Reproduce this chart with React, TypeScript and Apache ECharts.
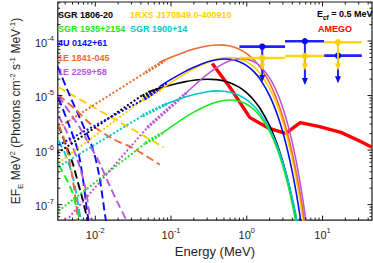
import React, { useEffect, useRef } from "react";
import * as echarts from "echarts";

type Pt = [number, number];

const FONT = "'Liberation Sans', Arial, Helvetica, sans-serif";
const X_MIN = 3.2e-3;
const X_MAX = 45;
const Y_MIN = 5.2e-8;
const Y_MAX = 5.2e-4;

const C_BLACK = "#000000";
const C_GOLD = "#FFD000";
const C_GREEN = "#1EE61E";
const C_CYAN = "#00C8C8";
const C_BLUE = "#0A0AF5";
const C_ORANGE = "#EE6A2F";
const C_PURPLE = "#BB55DD";
const C_RED = "#FF0000";

// ---- SGR 1806-20 (black)
const sgr1806Dashed: Pt[] = [[3.26e-3, 2.82e-6], [4.12e-3, 1.23e-6], [5.06e-3, 5.6e-7], [5.86e-3, 2.65e-7], [6.8e-3, 1.26e-7], [7.87e-3, 5.26e-8], [8.34e-3, 3.47e-8]];
const sgr1806Dotted: Pt[] = [[3.19e-3, 8.83e-7], [0.0421, 1.02e-5]];
const sgr1806Data: Pt[] = [[0.0421, 9.8e-6], [0.0757, 1.42e-5]];
const sgr1806Model: Pt[] = [[0.05, 1.172e-5], [0.1, 1.563e-5], [0.15, 1.784e-5], [0.2, 1.91e-5], [0.3, 1.996e-5], [0.4, 1.957e-5], [0.5, 1.853e-5], [0.6, 1.716e-5], [0.8, 1.41e-5], [1, 1.12e-5], [1.25, 8.14e-6], [1.5, 5.79e-6], [2, 2.81e-6], [2.5, 1.317e-6], [3, 6.03e-7], [3.5, 2.72e-7], [4, 1.215e-7], [4.5, 5.37e-8], [5, 2.36e-8]];

// ---- 1RXS J170849.0-400910 (gold)
const rxsDashed: Pt[] = [[3.26e-3, 1.42e-5], [0.0803, 1.13e-6]];
const rxsDotted: Pt[] = [[3.26e-3, 5.83e-7], [0.0421, 8.3e-6]];
const rxsData: Pt[] = [[0.0421, 8.3e-6], [0.0757, 1.31e-5]];
const rxsModel: Pt[] = [[0.0714, 1.255e-5], [0.1, 1.733e-5], [0.15, 2.48e-5], [0.2, 3.11e-5], [0.3, 4.056e-5], [0.4, 4.63e-5], [0.5, 4.92e-5], [0.6, 4.99e-5], [0.8, 4.71e-5], [1, 4.14e-5], [1.25, 3.31e-5], [1.5, 2.525e-5], [2, 1.35e-5], [2.5, 6.71e-6], [3, 3.19e-6], [3.5, 1.469e-6], [4, 6.61e-7], [4.5, 2.92e-7], [5, 1.274e-7], [5.5, 5.49e-8], [6, 2.34e-8]];

// ---- SGR 1935+2154 (green)
const sgr1935Dashed: Pt[] = [[3.26e-3, 5.37e-7], [4.0e-3, 3.27e-7], [4.92e-3, 1.75e-7], [5.69e-3, 8.65e-8], [6.22e-3, 5.26e-8], [6.6e-3, 3.47e-8]];
const sgr1935Dotted: Pt[] = [[3.26e-3, 7.64e-8], [0.0459, 1.34e-6]];
const sgr1935Data: Pt[] = [[0.0459, 1.34e-6], [0.0757, 2.02e-6]];
const sgr1935Model: Pt[] = [[0.0757, 2.02e-6], [0.1, 2.674e-6], [0.15, 3.907e-6], [0.2, 4.97e-6], [0.3, 6.59e-6], [0.4, 7.6e-6], [0.5, 8.13e-6], [0.6, 8.29e-6], [0.8, 7.86e-6], [1, 6.92e-6], [1.25, 5.52e-6], [1.5, 4.19e-6], [2, 2.212e-6], [2.5, 1.082e-6], [3, 5.05e-7], [3.5, 2.277e-7], [4, 1.002e-7], [4.5, 4.33e-8], [5, 1.844e-8]];

// ---- SGR 1900+14 (cyan)
const sgr1900Dashed: Pt[] = [[3.26e-3, 1.51e-6], [4.0e-3, 8.47e-7], [4.92e-3, 3.7e-7], [5.69e-3, 1.42e-7], [6.41e-3, 5.26e-8], [6.8e-3, 3.47e-8]];
const sgr1900Dotted: Pt[] = [[3.26e-3, 4.94e-7], [0.0421, 4.27e-6]];
const sgr1900Data: Pt[] = [[0.0421, 4.27e-6], [0.0877, 7.03e-6]];
const sgr1900Model: Pt[] = [[0.0757, 6.47e-6], [0.1, 7.57e-6], [0.15, 9.28e-6], [0.2, 1.046e-5], [0.3, 1.177e-5], [0.4, 1.217e-5], [0.5, 1.202e-5], [0.6, 1.153e-5], [0.8, 1.004e-5], [1, 8.35e-6], [1.25, 6.37e-6], [1.5, 4.72e-6], [2, 2.456e-6], [2.5, 1.219e-6], [3, 5.88e-7], [3.5, 2.78e-7], [4, 1.294e-7], [4.5, 5.96e-8], [5, 2.72e-8]];

// ---- 4U 0142+61 (blue)
const u0142DashedA: Pt[] = [[3.26e-3, 9.02e-6], [4.37e-3, 3.2e-6], [5.86e-3, 1.0e-6], [6.8e-3, 3.27e-7], [7.64e-3, 9.4e-8], [8.1e-3, 5.26e-8], [8.34e-3, 3.47e-8]];
const u0142DashedB: Pt[] = [[3.19e-3, 3.4e-5], [4.63e-3, 9.8e-6], [6.22e-3, 3.94e-6], [9.12e-3, 1.13e-6], [0.0112, 3.55e-7], [0.01376, 5.26e-8], [0.01459, 3.47e-8]];
const u0142Dotted: Pt[] = [[3.26e-3, 1.23e-6], [0.0446, 8.65e-6]];
const u0142Data: Pt[] = [[0.0446, 8.65e-6], [0.0877, 1.68e-5]];
const u0142Model: Pt[] = [[0.0714, 1.482e-5], [0.1, 1.977e-5], [0.15, 2.716e-5], [0.2, 3.3e-5], [0.3, 4.11e-5], [0.4, 4.53e-5], [0.5, 4.67e-5], [0.6, 4.62e-5], [0.8, 4.18e-5], [1, 3.54e-5], [1.25, 2.715e-5], [1.5, 1.997e-5], [2, 9.98e-6], [2.5, 4.67e-6], [3, 2.095e-6], [3.5, 9.13e-7], [4, 3.9e-7], [4.5, 1.636e-7], [5, 6.79e-8], [5.5, 2.78e-8]];

// ---- 1E 1841-045 (orange)
const e1841DashedA: Pt[] = [[3.26e-3, 1.02e-5], [5.37e-3, 5.71e-6], [8.85e-3, 2.94e-6], [0.01741, 1.58e-6], [0.03135, 1.09e-6], [0.0714, 5.37e-7]];
const e1841DashedB: Pt[] = [[3.26e-3, 2.94e-6], [3.88e-3, 1.58e-6], [4.77e-3, 4.55e-7], [5.53e-3, 1.16e-7], [5.86e-3, 5.26e-8], [6.04e-3, 3.47e-8]];
const e1841Dotted: Pt[] = [[3.26e-3, 2.6e-6], [0.0459, 2.65e-5]];
const e1841Data: Pt[] = [[0.0459, 2.65e-5], [0.0827, 4.36e-5]];
const e1841Model: Pt[] = [[0.0693, 4.02e-5], [0.1, 5.02e-5], [0.15, 6.25e-5], [0.2, 7.12e-5], [0.3, 8.12e-5], [0.4, 8.47e-5], [0.5, 8.41e-5], [0.6, 8.09e-5], [0.8, 7.08e-5], [1, 5.9e-5], [1.25, 4.5e-5], [1.5, 3.33e-5], [2, 1.716e-5], [2.5, 8.43e-6], [3, 4.02e-6], [3.5, 1.874e-6], [4, 8.6e-7], [4.5, 3.9e-7], [5, 1.754e-7], [5.5, 7.82e-8], [6, 3.47e-8], [6.5, 1.53e-8]];

// ---- 1E 2259+58 (purple)
const e2259DashedA: Pt[] = [[3.26e-3, 4.27e-6], [4.12e-3, 2.29e-6], [5.06e-3, 1.13e-6], [6.22e-3, 4.94e-7], [7.42e-3, 1.98e-7], [8.59e-3, 5.26e-8], [8.85e-3, 3.47e-8]];
const e2259DashedB: Pt[] = [[3.26e-3, 9.8e-6], [4.63e-3, 4.84e-6], [6.22e-3, 2.6e-6], [8.34e-3, 1.28e-6], [0.0112, 6.08e-7], [0.01502, 2.44e-7], [0.02017, 1.02e-7], [0.02553, 5.26e-8], [0.02787, 3.47e-8]];
const e2259Dotted: Pt[] = [[3.26e-3, 3.47e-8], [0.0487, 2.6e-6]];
const e2259Data: Pt[] = [[0.0487, 2.6e-6], [0.158, 1.11e-5]];
const e2259Model: Pt[] = [[0.149, 1.022e-5], [0.2, 1.512e-5], [0.3, 2.447e-5], [0.4, 3.256e-5], [0.5, 3.89e-5], [0.6, 4.34e-5], [0.8, 4.745e-5], [1, 4.66e-5], [1.25, 4.15e-5], [1.5, 3.456e-5], [2, 2.105e-5], [2.5, 1.152e-5], [3, 5.88e-6], [3.5, 2.87e-6], [4, 1.351e-6], [4.5, 6.2e-7], [5, 2.784e-7], [5.5, 1.231e-7], [6, 5.36e-8], [6.5, 2.31e-8]];

// ---- AMEGO sensitivity
const amego: Pt[] = [[0.35, 3.86e-5], [0.611, 1.365e-5], [0.87, 6.47e-6], [1.1, 3.94e-6], [1.981, 2.49e-6], [3.266, 2.02e-6], [5.08, 3.2e-6], [9.14, 2.7e-6], [17.46, 2.11e-6], [31.45, 1.45e-6], [44.8, 1.13e-6]];

// ---- Upper limits
const ulCenters = [1.6, 5.85, 16];
const ulLow = [0.8, 3.2, 10.5];
const ulHigh = [3.2, 10.5, 33];
const ulBlue = [7.9e-5, 9.9e-5, 5.4e-5];
const ulBlueArrow = [1.78e-5, 1.56e-5, 1.68e-5];
const ulGold = [4.9e-5, 5.3e-5, 9.5e-5];
const ulGoldArrow = [2.87e-5, 2.87e-5, 2.87e-5];

// ---- axis ticks
const xMajorTicks = [0.01, 0.1, 1, 10];
const yMajorTicks = [1e-7, 1e-6, 1e-5, 1e-4];
const xDecades = [0.001, 0.01, 0.1, 1, 10];
const yDecades = [1e-8, 1e-7, 1e-6, 1e-5, 1e-4];
const minorSteps = [2, 3, 4, 5, 6, 7, 8, 9];

const legendLeft = [
  { text: "SGR 1806-20", color: C_BLACK },
  { text: "SGR 1935+2154", color: C_GREEN },
  { text: "4U 0142+61", color: C_BLUE },
  { text: "1E 1841-045", color: C_ORANGE },
  { text: "1E 2259+58", color: C_PURPLE },
];
const legendRight = [
  { text: "1RXS J170849.0-400910", color: C_GOLD },
  { text: "SGR 1900+14", color: C_CYAN },
];

function lineSeries(data: Pt[], color: string, kind: "solid" | "dashed" | "dotted" | "data" | "amego", smooth = 0, z = 2) {
  let width = 1.6;
  let type: any = "solid";
  if (kind === "dashed") { width = 1.9; type = [8, 4]; }
  if (kind === "dotted") { width = 2; type = [2, 2]; }
  if (kind === "data") { width = 3.2; type = [2.2, 1.4]; }
  if (kind === "amego") { width = 3.4; }
  return {
    type: "line",
    data,
    showSymbol: false,
    symbol: "none",
    smooth: smooth > 0 ? smooth : false,
    clip: true,
    silent: true,
    z,
    lineStyle: { color, width, type, cap: "butt", join: "round" },
  };
}

function powLabel(v: number) {
  const e = Math.log10(v);
  const r = Math.round(e);
  if (Math.abs(e - r) > 1e-6) return "";
  return `{b|10}{p|${r}}`;
}

function ulSeries(color: string, values: number[], arrows: number[], z: number) {
  return {
    type: "custom",
    coordinateSystem: "cartesian2d",
    silent: true,
    clip: false,
    z,
    encode: { x: 0, y: 1 },
    data: ulCenters.map((c, i) => [c, values[i], ulLow[i], ulHigh[i], arrows[i]]),
    renderItem: (params: any, api: any) => {
      const c = api.coord([api.value(0), api.value(1)]);
      const lo = api.coord([api.value(2), api.value(1)]);
      const hi = api.coord([api.value(3), api.value(1)]);
      const end = api.coord([api.value(0), api.value(4)]);
      return {
        type: "group",
        children: [
          { type: "line", shape: { x1: lo[0], y1: c[1], x2: hi[0], y2: c[1] }, style: { stroke: color, lineWidth: 2.6, opacity: 0.9 } },
          { type: "line", shape: { x1: c[0], y1: c[1], x2: c[0], y2: end[1] - 5 }, style: { stroke: color, lineWidth: 2, opacity: 0.9 } },
          { type: "polygon", shape: { points: [[c[0] - 3, end[1] - 7], [c[0] + 3, end[1] - 7], [c[0], end[1]]] }, style: { fill: color } },
          { type: "circle", shape: { cx: c[0], cy: c[1], r: 3.2 }, style: { fill: color } },
        ],
      };
    },
  };
}

function buildTicks() {
  const xMinor = xDecades.flatMap((d) => minorSteps.map((m) => d * m)).filter((v) => v > X_MIN && v < X_MAX);
  const yMinor = yDecades.flatMap((d) => minorSteps.map((m) => d * m)).filter((v) => v > Y_MIN && v < Y_MAX);
  return [
    ...xMajorTicks.map((v) => [v, 1e-6, 0, 4.5]),
    ...xMinor.map((v) => [v, 1e-6, 0, 2.5]),
    ...yMajorTicks.map((v) => [1, v, 1, 4.5]),
    ...yMinor.map((v) => [1, v, 1, 2.5]),
  ];
}

const tickSeries = {
  type: "custom",
  coordinateSystem: "cartesian2d",
  silent: true,
  clip: false,
  z: 20,
  encode: { x: 0, y: 1 },
  data: buildTicks(),
  renderItem: (params: any, api: any) => {
    const cs = params.coordSys;
    const kind = api.value(2);
    const len = api.value(3);
    const p = api.coord([api.value(0), api.value(1)]);
    const st = { stroke: "#1a1a1a", lineWidth: 1 };
    if (kind === 0) {
      return {
        type: "group",
        children: [
          { type: "line", shape: { x1: p[0], y1: cs.y + cs.height, x2: p[0], y2: cs.y + cs.height - len }, style: st },
          { type: "line", shape: { x1: p[0], y1: cs.y, x2: p[0], y2: cs.y + len }, style: st },
        ],
      };
    }
    return {
      type: "group",
      children: [
        { type: "line", shape: { x1: cs.x, y1: p[1], x2: cs.x + len, y2: p[1] }, style: st },
        { type: "line", shape: { x1: cs.x + cs.width, y1: p[1], x2: cs.x + cs.width - len, y2: p[1] }, style: st },
      ],
    };
  },
};

const labelRich = {
  b: { fontSize: 11, fontFamily: FONT, color: "#262626", lineHeight: 14, verticalAlign: "bottom" },
  p: { fontSize: 7.5, fontFamily: FONT, color: "#262626", lineHeight: 14, verticalAlign: "top" },
};

const legendFont = `bold 9px ${FONT}`;

const graphics: any[] = [
  ...legendLeft.map((l, i) => ({
    type: "text", x: 58, y: 15 + i * 14.2, silent: true, z: 30,
    style: { text: l.text, fill: l.color, font: legendFont, textVerticalAlign: "middle" },
  })),
  ...legendRight.map((l, i) => ({
    type: "text", x: 130, y: 15 + i * 14.2, silent: true, z: 30,
    style: { text: l.text, fill: l.color, font: legendFont, textVerticalAlign: "middle" },
  })),
  {
    type: "text", x: 317, y: 15, silent: true, z: 30,
    style: {
      text: "{a|E}{s|cf}{a| = 0.5 MeV}",
      textVerticalAlign: "middle",
      rich: {
        a: { font: legendFont, fill: "#000", lineHeight: 12, verticalAlign: "top" },
        s: { font: `bold 6.5px ${FONT}`, fill: "#000", lineHeight: 12, verticalAlign: "bottom" },
      },
    },
  },
  {
    type: "text", x: 318, y: 29.2, silent: true, z: 30,
    style: { text: "AMEGO", fill: C_RED, font: legendFont, textVerticalAlign: "middle" },
  },
];

const option: any = {
  animation: false,
  grid: { left: 47, right: 1, top: 2, bottom: 39, show: true, borderColor: "#1a1a1a", borderWidth: 1.2, backgroundColor: "#fff" },
  xAxis: {
    type: "log", logBase: 10, min: X_MIN, max: X_MAX,
    axisLine: { show: false }, axisTick: { show: false }, splitLine: { show: false },
    axisLabel: { formatter: powLabel, margin: 6, rich: labelRich, showMinLabel: false, showMaxLabel: false },
    name: "Energy (MeV)", nameLocation: "middle", nameGap: 23,
    nameTextStyle: { fontSize: 13, fontFamily: FONT, color: "#262626" },
  },
  yAxis: {
    type: "log", logBase: 10, min: Y_MIN, max: Y_MAX,
    axisLine: { show: false }, axisTick: { show: false }, splitLine: { show: false },
    axisLabel: { formatter: powLabel, margin: 4, rich: labelRich, showMinLabel: false, showMaxLabel: false },
    name: "{a|EF}{s|E}{a| MeV}{p|2}{a| (Photons cm}{p|-2}{a| s}{p|-1}{a| MeV}{p|-1}{a|)}",
    nameLocation: "middle", nameGap: 28,
    nameTextStyle: {
      rich: {
        a: { fontSize: 12, fontFamily: FONT, color: "#262626", lineHeight: 16, verticalAlign: "middle" },
        s: { fontSize: 8, fontFamily: FONT, color: "#262626", lineHeight: 16, verticalAlign: "bottom" },
        p: { fontSize: 8, fontFamily: FONT, color: "#262626", lineHeight: 16, verticalAlign: "top" },
      },
    },
  },
  graphic: graphics,
  series: [
    lineSeries(amego, C_RED, "amego", 0, 1),
    // dashed thermal components
    lineSeries(sgr1806Dashed, C_BLACK, "dashed", 0.3),
    lineSeries(rxsDashed, C_GOLD, "dashed"),
    lineSeries(sgr1935Dashed, C_GREEN, "dashed", 0.3),
    lineSeries(sgr1900Dashed, C_CYAN, "dashed", 0.3),
    lineSeries(u0142DashedA, C_BLUE, "dashed", 0.3),
    lineSeries(u0142DashedB, C_BLUE, "dashed", 0.3),
    lineSeries(e1841DashedA, C_ORANGE, "dashed", 0.3),
    lineSeries(e1841DashedB, C_ORANGE, "dashed", 0.3),
    lineSeries(e2259DashedA, C_PURPLE, "dashed", 0.3),
    lineSeries(e2259DashedB, C_PURPLE, "dashed", 0.3),
    // dotted power-law extensions
    lineSeries(sgr1806Dotted, C_BLACK, "dotted"),
    lineSeries(rxsDotted, C_GOLD, "dotted"),
    lineSeries(sgr1935Dotted, C_GREEN, "dotted"),
    lineSeries(sgr1900Dotted, C_CYAN, "dotted"),
    lineSeries(u0142Dotted, C_BLUE, "dotted"),
    lineSeries(e1841Dotted, C_ORANGE, "dotted"),
    lineSeries(e2259Dotted, C_PURPLE, "dotted"),
    // data bands
    lineSeries(sgr1806Data, C_BLACK, "data"),
    lineSeries(rxsData, C_GOLD, "data"),
    lineSeries(sgr1935Data, C_GREEN, "data"),
    lineSeries(sgr1900Data, C_CYAN, "data"),
    lineSeries(u0142Data, C_BLUE, "data"),
    lineSeries(e1841Data, C_ORANGE, "data"),
    lineSeries(e2259Data, C_PURPLE, "data"),
    // cutoff models
    lineSeries(sgr1806Model, C_BLACK, "solid", 0.25, 3),
    lineSeries(rxsModel, C_GOLD, "solid", 0.25, 3),
    lineSeries(sgr1935Model, C_GREEN, "solid", 0.25, 3),
    lineSeries(sgr1900Model, C_CYAN, "solid", 0.25, 3),
    lineSeries(u0142Model, C_BLUE, "solid", 0.25, 3),
    lineSeries(e1841Model, C_ORANGE, "solid", 0.25, 3),
    lineSeries(e2259Model, C_PURPLE, "solid", 0.25, 3),
    ulSeries(C_BLUE, ulBlue, ulBlueArrow, 10),
    ulSeries(C_GOLD, ulGold, ulGoldArrow, 11),
    tickSeries,
  ],
};

export default function App() {
  const ref = useRef<HTMLDivElement>(null);
  useEffect(() => {
    const chart = echarts.init(ref.current!, null, { renderer: "svg" });
    chart.setOption(option);
    return () => chart.dispose();
  }, []);
  return <div ref={ref} style={{ position: "fixed", left: 0, top: 0, width: 373, height: 263, background: "#fff" }} />;
}
